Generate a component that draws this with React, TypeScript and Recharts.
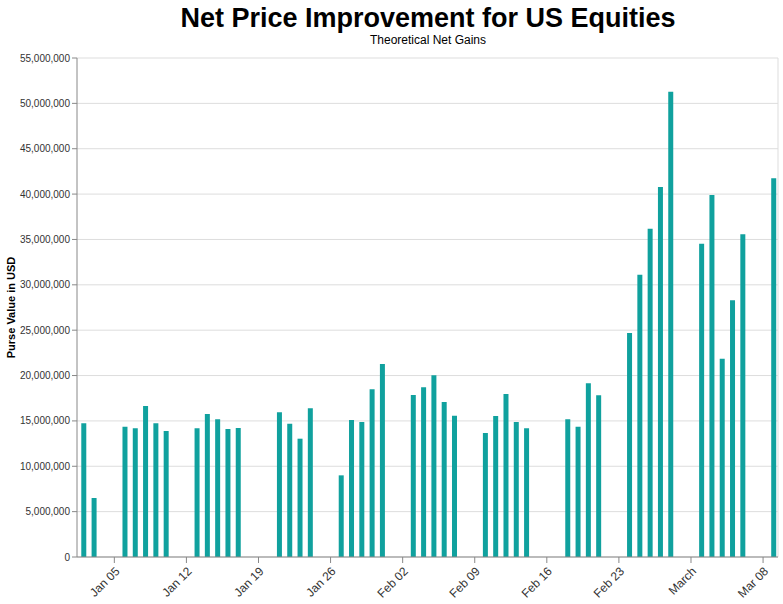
import React from "react";
import {
  BarChart,
  Bar,
  XAxis,
  YAxis,
  CartesianGrid,
  ReferenceLine,
} from "recharts";

// ---- data ----
const dates: string[] = [
  "2020-01-02", "2020-01-03",
  "2020-01-06", "2020-01-07", "2020-01-08", "2020-01-09", "2020-01-10",
  "2020-01-13", "2020-01-14", "2020-01-15", "2020-01-16", "2020-01-17",
  "2020-01-21", "2020-01-22", "2020-01-23", "2020-01-24",
  "2020-01-27", "2020-01-28", "2020-01-29", "2020-01-30", "2020-01-31",
  "2020-02-03", "2020-02-04", "2020-02-05", "2020-02-06", "2020-02-07",
  "2020-02-10", "2020-02-11", "2020-02-12", "2020-02-13", "2020-02-14",
  "2020-02-18", "2020-02-19", "2020-02-20", "2020-02-21",
  "2020-02-24", "2020-02-25", "2020-02-26", "2020-02-27", "2020-02-28",
  "2020-03-02", "2020-03-03", "2020-03-04", "2020-03-05", "2020-03-06",
  "2020-03-09",
];

const purseValues: number[] = [
  14740000, 6500000,
  14360000, 14180000, 16640000, 14740000, 13890000,
  14180000, 15760000, 15170000, 14110000, 14220000,
  15950000, 14690000, 13040000, 16390000,
  9000000, 15100000, 14880000, 18480000, 21270000,
  17860000, 18700000, 20030000, 17080000, 15570000,
  13670000, 15540000, 17970000, 14880000, 14180000,
  15170000, 14360000, 19140000, 17820000,
  24690000, 31110000, 36180000, 40780000, 51280000,
  34530000, 39900000, 21860000, 28290000, 35570000,
  41740000,
];

const tickDates: string[] = [
  "2020-01-05", "2020-01-12", "2020-01-19", "2020-01-26", "2020-02-02",
  "2020-02-09", "2020-02-16", "2020-02-23", "2020-03-01", "2020-03-08",
];
const tickLabels: string[] = [
  "Jan 05", "Jan 12", "Jan 19", "Jan 26", "Feb 02",
  "Feb 09", "Feb 16", "Feb 23", "March", "Mar 08",
];

const yTicks: number[] = [
  0, 5000000, 10000000, 15000000, 20000000, 25000000,
  30000000, 35000000, 40000000, 45000000, 50000000, 55000000,
];

const DOMAIN_START = "2020-01-01T09:00:00Z";
const DOMAIN_END = "2020-03-09T10:48:00Z";

// ---- helpers ----
const DAY = 86400000;
const base = Date.UTC(2020, 0, 1);
const toDay = (s: string) =>
  (new Date(s.length === 10 ? s + "T00:00:00Z" : s).getTime() - base) / DAY;

const data = dates.map((d, i) => ({ day: toDay(d), value: purseValues[i] }));
const xTicks = tickDates.map(toDay);
const labelFor: Record<number, string> = {};
xTicks.forEach((t, i) => (labelFor[t] = tickLabels[i]));
const xDomain: [number, number] = [toDay(DOMAIN_START), toDay(DOMAIN_END)];

const FONT = '"Liberation Sans", Arial, Helvetica, sans-serif';

const XTick = (props: any) => {
  const { x, y, payload } = props;
  return (
    <text
      x={x}
      y={y}
      dy="0.71em"
      textAnchor="end"
      fontSize={12}
      fill="#333333"
      fontFamily={FONT}
      transform={`rotate(-45, ${x}, ${y})`}
    >
      {labelFor[payload.value]}
    </text>
  );
};

const fmt = (v: number) => v.toLocaleString("en-US");

export default function App() {
  return (
    <div
      style={{
        position: "absolute",
        left: 0,
        top: 0,
        width: 783,
        height: 604,
        background: "#fff",
        fontFamily: FONT,
      }}
    >
      <svg
        width={783}
        height={60}
        style={{ position: "absolute", left: 0, top: 0 }}
      >
        <text
          x={428}
          y={27}
          textAnchor="middle"
          fontSize={27}
          fontWeight="bold"
          fontFamily={FONT}
          fill="#000"
        >
          Net Price Improvement for US Equities
        </text>
        <text
          x={428}
          y={44}
          textAnchor="middle"
          fontSize={12}
          fontFamily={FONT}
          fill="#000"
        >
          Theoretical Net Gains
        </text>
      </svg>
      <BarChart
        width={783}
        height={604}
        data={data}
        margin={{ top: 58, right: 5, bottom: 0, left: 17 }}
        style={{ position: "absolute", left: 0, top: 0 }}
      >
        <CartesianGrid vertical={false} stroke="#dddddd" />
        <XAxis
          dataKey="day"
          type="number"
          domain={xDomain}
          ticks={xTicks}
          allowDataOverflow
          interval={0}
          height={47}
          tickSize={6}
          tickMargin={3}
          stroke="#888"
          tick={<XTick />}
        />
        <YAxis
          type="number"
          domain={[0, 55000000]}
          ticks={yTicks}
          interval={0}
          width={60}
          tickSize={5}
          tickMargin={2}
          stroke="#888"
          tick={{ fontSize: 10, fill: "#333", fontFamily: FONT }}
          tickFormatter={fmt}
          label={{
            value: "Purse Value in USD",
            angle: -90,
            position: "insideLeft",
            dx: -11,
            style: {
              fontSize: 11,
              fontWeight: "bold",
              fill: "#000",
              fontFamily: FONT,
              textAnchor: "middle",
            },
          }}
        />
        <ReferenceLine x={xDomain[1]} stroke="#dddddd" ifOverflow="extendDomain" />
        <Bar
          dataKey="value"
          fill="#10a19e"
          barSize={5}
          isAnimationActive={false}
        />
      </BarChart>
    </div>
  );
}
